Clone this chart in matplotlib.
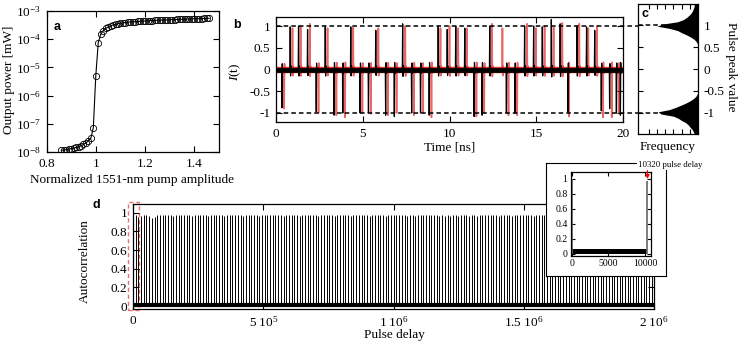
import numpy as np
import matplotlib
matplotlib.use('Agg')
import matplotlib.pyplot as plt
from matplotlib.ticker import FormatStrFormatter, NullLocator, FixedLocator, FixedFormatter
from matplotlib.patches import Rectangle
import matplotlib.transforms as mtransforms

plt.rcParams['font.family'] = ['Liberation Serif', 'DejaVu Serif']
plt.rcParams['mathtext.fontset'] = 'custom'
plt.rcParams['mathtext.rm'] = 'Liberation Serif'
plt.rcParams['mathtext.it'] = 'Liberation Serif:italic'
plt.rcParams['axes.unicode_minus'] = False

# ---- panel a: output power vs pump amplitude
pump_amp = [0.86, 0.87, 0.88, 0.89, 0.90, 0.91, 0.92, 0.93, 0.94, 0.95, 0.96, 0.97, 0.98,
            0.99, 1.00, 1.01, 1.02, 1.03, 1.04, 1.05, 1.06, 1.07, 1.08, 1.09, 1.10,
            1.11, 1.12, 1.13, 1.14, 1.15, 1.16, 1.17, 1.18, 1.19, 1.20, 1.21, 1.22,
            1.23, 1.24, 1.25, 1.26, 1.27, 1.28, 1.29, 1.30, 1.31, 1.32, 1.33, 1.34,
            1.35, 1.36, 1.37, 1.38, 1.39, 1.40, 1.41, 1.42, 1.43, 1.44, 1.45, 1.46]
out_power = [1.15e-8, 1.18e-8, 1.22e-8, 1.27e-8, 1.32e-8, 1.38e-8, 1.45e-8, 1.55e-8,
             1.67e-8, 1.85e-8, 2.1e-8, 2.5e-8, 3.1e-8,
             7.3e-8, 5.0e-6, 7.5e-5, 1.5e-4, 2.0e-4, 2.4e-4, 2.7e-4, 3.0e-4, 3.2e-4,
             3.4e-4, 3.55e-4, 3.7e-4, 3.8e-4, 3.9e-4, 4.0e-4, 4.1e-4, 4.15e-4, 4.2e-4,
             4.27e-4, 4.33e-4, 4.4e-4, 4.45e-4, 4.5e-4, 4.55e-4, 4.6e-4, 4.65e-4,
             4.7e-4, 4.74e-4, 4.78e-4, 4.82e-4, 4.86e-4, 4.9e-4, 4.94e-4, 4.98e-4,
             5.02e-4, 5.06e-4, 5.1e-4, 5.14e-4, 5.18e-4, 5.22e-4, 5.26e-4, 5.3e-4,
             5.34e-4, 5.38e-4, 5.42e-4, 5.45e-4, 5.48e-4, 5.5e-4]

# ---- panel b: spike trains (time [ns], peak value)
black_spikes = [(0.34, -0.88), (0.82, 0.98), (1.30, 1.0), (1.82, 0.92), (2.32, -0.97),
                (2.84, 1.0), (3.35, -1.05), (3.85, -1.0), (4.31, 0.98), (4.85, -1.0),
                (5.33, -1.0), (5.75, 0.9), (6.32, -1.05), (6.82, -1.08), (7.30, 1.05),
                (7.82, -1.0), (8.33, -1.0), (8.83, -1.05), (9.35, 1.0), (9.87, 0.92),
                (10.36, 1.0), (10.88, 0.95), (11.42, -1.08), (11.88, -1.05), (12.32, 1.0),
                (13.28, -1.0), (13.77, -1.0), (14.33, 1.0), (14.85, 1.0), (15.35, 0.98),
                (15.87, 1.15), (16.38, 1.05), (16.83, -0.98), (17.35, 1.0), (17.90, 0.98),
                (18.37, 0.9), (18.75, -0.95), (19.23, -0.9), (19.62, -1.0), (19.85, -1.05)]
red_spikes = [(0.47, -0.9), (0.95, 0.95), (1.42, 1.0), (1.95, 1.05), (2.45, -1.0),
              (2.97, 0.95), (3.48, -1.05), (3.98, -1.1), (4.45, 0.97), (4.98, -1.0),
              (5.46, -1.02), (5.90, 0.95), (6.45, -1.05), (6.95, -1.0), (7.45, 1.0),
              (7.95, -1.05), (8.46, -1.0), (8.96, -1.1), (9.48, 0.95), (10.0, 1.0),
              (10.5, 0.95), (11.0, 0.95), (11.55, -1.08), (12.0, -1.0), (12.45, 1.05),
              (13.05, 0.95), (13.4, -1.05), (13.9, -1.05), (14.47, 1.05), (14.98, 0.95),
              (15.48, 1.0), (16.0, 0.97), (16.5, 1.07), (16.88, -1.08), (17.48, 1.05),
              (18.0, 0.95), (18.5, 1.0), (18.85, -1.1), (19.35, -1.1), (19.75, -1.0)]
spike_dt = [-0.02, 0.0, 0.02, 0.04, 0.07]
spike_shape = [0.0, 1.0, -0.15, 0.08, 0.0]

# ---- panel c: histogram of pulse peak values
peak_bins = [-1.475, -1.425, -1.375, -1.325, -1.275, -1.225, -1.175, -1.125, -1.075, -1.025,
             -0.975, -0.925, -0.875, -0.825, -0.775, -0.725, -0.675, -0.625, -0.575, -0.525,
             -0.475, 0.475,
             0.525, 0.575, 0.625, 0.675, 0.725, 0.775, 0.825, 0.875, 0.925, 0.975,
             1.025, 1.075, 1.125, 1.175, 1.225, 1.275, 1.325, 1.375, 1.425, 1.475]
peak_freq = [0.10, 0.12, 0.15, 0.20, 0.24, 0.30, 0.40, 0.48, 0.60, 0.90,
             0.97, 0.70, 0.55, 0.42, 0.30, 0.20, 0.12, 0.06, 0.03, 0.01,
             0.0, 0.0,
             0.01, 0.02, 0.05, 0.10, 0.18, 0.28, 0.40, 0.50, 0.70, 1.0,
             0.85, 0.50, 0.36, 0.28, 0.22, 0.17, 0.14, 0.12, 0.10, 0.10]

# ---- panel d: autocorrelation peaks every 10320 pulse delays
period = 10320
peak_heights = [1.00, 0.97, 0.955, 0.96, 0.97, 0.97, 0.965, 0.94, 0.95, 0.97,
                0.97, 0.97, 0.97, 0.97, 0.97, 0.965, 0.97, 0.97, 0.97, 0.97,
                0.97, 0.97, 0.965, 0.97, 0.97, 0.97, 0.97, 0.97, 0.96, 0.97,
                0.97, 0.97, 0.97, 0.97, 0.965, 0.97, 0.97, 0.97, 0.97, 0.97,
                0.97, 0.965, 0.97, 0.97, 0.97, 0.97, 0.97, 0.96, 0.97, 0.97,
                0.97, 0.97, 0.97, 0.97, 0.97, 0.97, 0.965, 0.97, 0.97, 0.97,
                0.97, 0.97, 0.96, 0.97, 0.97, 0.97, 0.97, 0.97, 0.97, 0.965,
                0.97, 0.97, 0.97, 0.97, 0.97, 0.96, 0.97, 0.97, 0.97, 0.97,
                0.97, 0.965, 0.97, 0.97, 0.97, 0.97, 0.97, 0.97, 0.96, 0.97,
                0.97, 0.97, 0.97, 0.97, 0.965, 0.97, 0.97, 0.97, 0.97, 0.97,
                0.97, 0.97, 0.96, 0.97, 0.97, 0.965, 0.97, 0.97, 0.97, 0.97,
                0.97, 0.97, 0.97, 0.97, 0.96, 0.97, 0.965, 0.97, 0.96, 0.97,
                0.97, 0.965, 0.97, 0.97, 0.97, 0.96, 0.97, 0.97, 0.965, 0.97,
                0.97, 0.97, 0.97, 0.97, 0.97, 0.97, 0.965, 0.97, 0.97, 0.97,
                0.97, 0.96, 0.97, 0.97, 0.97, 0.97, 0.97, 0.97, 0.97, 0.965,
                0.97, 0.97, 0.97, 0.97, 0.97, 0.97, 0.97, 0.97, 0.97, 0.97,
                0.97, 0.965, 0.97, 0.97, 0.97, 0.97, 0.96, 0.97, 0.97, 0.97,
                0.97, 0.97, 0.97, 0.97, 0.965, 0.97, 0.97, 0.97, 0.97, 0.97,
                0.97, 0.97, 0.97, 0.97, 0.97, 0.97, 0.97, 0.97, 0.97, 0.97,
                0.97, 0.97, 0.965, 0.97]
d_xticks = [0, 5e5, 1e6, 1.5e6, 2e6]
d_xticklabels = ['0', r'$5\ 10^{5}$', r'$1\ 10^{6}$', r'$1.5\ 10^{6}$', r'$2\ 10^{6}$']

W, H = 747, 345
FS = 9.5


def box(l, t, r, b):
    return [l / W, 1 - b / H, (r - l) / W, (b - t) / H]


def style(ax, size=FS, length=4):
    ax.tick_params(which='both', direction='in', top=True, right=True,
                   length=length, width=0.8, labelsize=size)
    ax.tick_params(axis='x', pad=4)
    ax.tick_params(axis='y', pad=4)
    for s in ax.spines.values():
        s.set_linewidth(0.9)


def trace(spikes):
    xs, ys = [0.0], [0.0]
    for t, a in spikes:
        for dt, v in zip(spike_dt, spike_shape):
            xs.append(t + dt)
            ys.append(a * v)
    xs.append(20.0)
    ys.append(0.0)
    return xs, ys


fig = plt.figure(figsize=(7.47, 3.45), dpi=100)

# a
ax_a = fig.add_axes(box(46.5, 11, 219, 152))
ax_a.plot(pump_amp, out_power, color='k', lw=0.8, marker='o', ms=4.5,
          mfc='none', mec='k', mew=0.6)
ax_a.set_yscale('log')
ax_a.set_xlim(0.8, 1.5)
ax_a.set_ylim(1e-8, 1e-3)
ax_a.set_xticks([0.8, 1.0, 1.2, 1.4])
ax_a.xaxis.set_major_formatter(FormatStrFormatter('%g'))
ax_a.set_yticks([1e-8, 1e-7, 1e-6, 1e-5, 1e-4, 1e-3])
ax_a.yaxis.set_minor_locator(NullLocator())
style(ax_a)

# b
ax_b = fig.add_axes(box(276, 17, 623, 122))
rx, ry = trace(red_spikes)
bx, by = trace(black_spikes)
ax_b.plot([0, 20], [0, 0], color='#dd0000', lw=4.6, alpha=0.8, solid_capstyle='butt')
ax_b.plot(rx, ry, color='#dd0000', lw=1.2, alpha=0.6)
ax_b.plot([0, 20], [0, 0], color='k', lw=3.4, solid_capstyle='butt')
ax_b.plot(bx, by, color='k', lw=0.9)
ax_b.set_xlim(0, 20)
ax_b.set_ylim(-1.207, 1.207)
ax_b.set_xticks([0, 5, 10, 15, 20])
ax_b.set_yticks([-1, -0.5, 0, 0.5, 1])
ax_b.yaxis.set_major_formatter(FormatStrFormatter('%g'))
style(ax_b)
trans = mtransforms.blended_transform_factory(ax_b.transAxes, ax_b.transData)
for yv in (1, -1):
    ax_b.plot([0, (640 - 276) / 347], [yv, yv], transform=trans, clip_on=False,
              color='k', lw=1.1, ls=(0, (3, 2)), zorder=5)

# c
ax_c = fig.add_axes(box(638.3, 4, 698.3, 134))
for yv in (1, -1):
    ax_c.axhline(yv, color='k', lw=1.1, ls=(0, (3, 2)), zorder=1)
ax_c.fill_betweenx(peak_bins, 0, peak_freq, color='k', lw=0, zorder=2)
ax_c.set_xlim(1.45, 0)
ax_c.set_ylim(-1.48, 1.48)
ax_c.set_xticks([0.2, 0.4, 0.6, 0.8, 1.0, 1.2])
ax_c.set_yticks([-1, -0.5, 0, 0.5, 1])
ax_c.yaxis.set_major_formatter(FormatStrFormatter('%g'))
style(ax_c, length=3.5)
ax_c.tick_params(labelbottom=False, labelleft=False, labelright=True)

# d
ax_d = fig.add_axes(box(133, 204, 654, 309))
delays = [k * period for k in range(len(peak_heights))]
ax_d.vlines(delays, 0, peak_heights, color='k', lw=0.7)
ax_d.plot([0, 2e6], [0.008, 0.008], color='k', lw=3, solid_capstyle='butt')
ax_d.set_xlim(0, 2e6)
ax_d.set_ylim(-0.032, 1.093)
ax_d.xaxis.set_major_locator(FixedLocator(d_xticks))
ax_d.xaxis.set_major_formatter(FixedFormatter(d_xticklabels))
ax_d.set_yticks([0, 0.2, 0.4, 0.6, 0.8, 1.0])
ax_d.yaxis.set_major_formatter(FormatStrFormatter('%g'))
style(ax_d)
ax_d.add_patch(Rectangle((-19000, -0.043), 42000, 1.158, fill=False,
                         ec='#f07070', lw=1.0, ls=(0, (3, 2)), clip_on=False))

# inset box + inset axes
ax_box = fig.add_axes(box(546, 163, 666, 276))
ax_box.set_xticks([])
ax_box.set_yticks([])
for s in ax_box.spines.values():
    s.set_linewidth(0.8)

ax_in = fig.add_axes(box(571, 172, 651, 256))
ax_in.fill_between([0, period], 0, 0.07, color='k', lw=0)
ax_in.vlines([0, period], 0, [1.0, peak_heights[1]], color='0.4', lw=1.2)
ax_in.annotate('', xy=(period, 0.96), xytext=(period, 1.2),
               arrowprops=dict(arrowstyle='-|>', color='red', lw=0.8, mutation_scale=6),
               annotation_clip=False)
ax_in.set_xlim(-100, 10800)
ax_in.set_ylim(-0.03, 1.09)
ax_in.set_xticks([0, 5000, 10000])
ax_in.set_yticks([0, 0.2, 0.4, 0.6, 0.8, 1.0])
ax_in.yaxis.set_major_formatter(FormatStrFormatter('%g'))
style(ax_in, size=7, length=3)
ax_in.tick_params(axis='both', pad=2.5)

# labels
def ftext(x, y, s, **kw):
    fig.text(x / W, 1 - y / H, s, ha='center', va='center', **kw)

ftext(9, 80, 'Output power [mW]', fontsize=FS, rotation=90)
ftext(132, 180, 'Normalized 1551-nm pump amplitude', fontsize=FS)
ftext(235, 72, r'$I$(t)', fontsize=FS, rotation=90)
ftext(450, 147, 'Time [ns]', fontsize=FS)
ftext(668, 147, 'Frequency', fontsize=FS)
ftext(731, 67, 'Pulse peak value', fontsize=FS, rotation=270)
ftext(85, 261, 'Autocorrelation', fontsize=FS, rotation=90)
ftext(394, 335, 'Pulse delay', fontsize=FS)
ftext(670, 165, '10320 pulse delay', fontsize=6.3,
      bbox=dict(fc='white', ec='none', pad=0.6))

for x, y, s in [(57, 27, 'a'), (237, 25, 'b'), (645, 14, 'c'), (96, 205, 'd')]:
    ftext(x, y, s, fontsize=9, fontweight='bold', family='Liberation Sans')

fig.savefig('out.png', dpi=100)
